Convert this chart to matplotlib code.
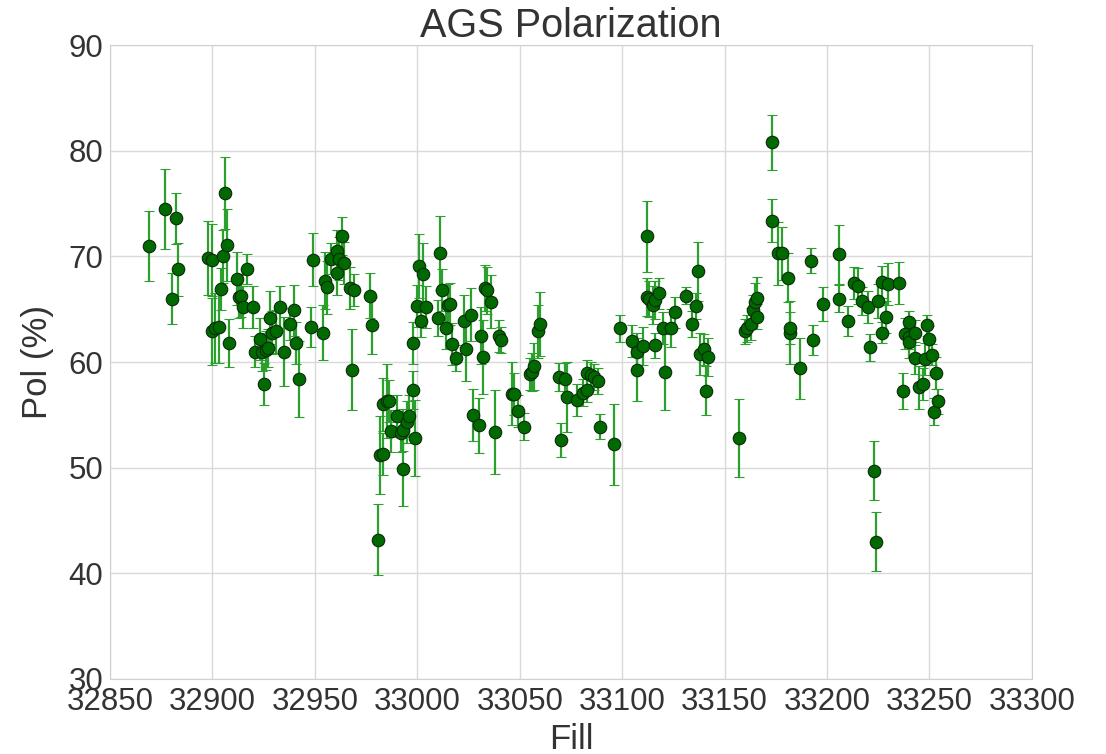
import numpy as np
import matplotlib
matplotlib.use('Agg')
import matplotlib.pyplot as plt

plt.rcParams['font.family'] = ['Liberation Sans', 'DejaVu Sans']

# fill numbers, polarization (%) and errors
fill = [32869, 32877, 32880, 32882, 32883, 32898, 32900, 32900, 32901, 32903,
        32904, 32905, 32906, 32907, 32908, 32912, 32913, 32914, 32915, 32917,
        32920, 32921, 32923, 32924, 32925, 32926, 32927, 32928, 32929, 32931,
        32933, 32935, 32938, 32940, 32941, 32942, 32949, 32948, 32954, 32955,
        32956, 32958, 32961, 32961, 32962, 32963, 32964, 32967, 32968, 32969,
        32977, 32978, 32981, 32982, 32983, 32983, 32985, 32986, 32987, 32990,
        32992, 32993, 32993, 32995, 32996, 32998, 32999, 32998, 33000, 33001,
        33002, 33003, 33004, 33010, 33011, 33012, 33014, 33015, 33016, 33017,
        33019, 33023, 33024, 33026, 33027, 33030, 33031, 33032, 33033, 33034,
        33036, 33038, 33040, 33041, 33046, 33047, 33049, 33052, 33055, 33056,
        33057, 33059, 33060, 33069, 33070, 33072, 33073, 33078, 33081, 33083,
        33083, 33085, 33086, 33088, 33089, 33096, 33099, 33105, 33107, 33107,
        33110, 33112, 33112, 33113, 33115, 33116, 33116, 33118, 33120, 33121,
        33124, 33126, 33131, 33134, 33136, 33137, 33138, 33140, 33141, 33142,
        33157, 33160, 33161, 33163, 33164, 33165, 33166, 33166, 33173, 33173,
        33176, 33178, 33181, 33182, 33182, 33187, 33192, 33193, 33198, 33206,
        33206, 33210, 33213, 33215, 33217, 33220, 33221, 33223, 33224, 33225,
        33227, 33227, 33229, 33230, 33235, 33237, 33238, 33240, 33240, 33240,
        33243, 33243, 33245, 33247, 33248, 33249, 33250, 33251, 33252, 33253,
        33254]
pol = [71.0, 74.5, 66.0, 73.6, 68.8, 69.9, 69.7, 62.9, 63.2, 63.3,
       66.9, 70.0, 76.0, 71.1, 61.8, 67.9, 66.2, 66.3, 65.2, 68.8,
       65.2, 61.0, 62.2, 61.0, 57.9, 61.1, 61.3, 64.2, 62.8, 62.9,
       65.2, 61.0, 63.6, 64.9, 61.8, 58.4, 69.7, 63.3, 62.8, 67.7,
       67.1, 69.8, 68.4, 70.5, 69.8, 71.9, 69.4, 67.0, 59.3, 66.8,
       66.3, 63.5, 43.2, 51.2, 51.3, 56.0, 56.3, 56.3, 53.5, 54.9,
       53.3, 49.9, 53.6, 54.3, 54.9, 57.4, 52.8, 61.8, 65.3, 69.1,
       63.9, 68.3, 65.2, 64.2, 70.3, 66.8, 63.2, 65.4, 65.5, 61.7,
       60.4, 63.9, 61.2, 64.5, 55.0, 54.0, 62.5, 60.5, 67.0, 66.8,
       65.7, 53.4, 62.5, 62.1, 57.0, 57.0, 55.4, 53.9, 58.9, 59.1,
       59.6, 62.9, 63.6, 58.6, 52.6, 58.4, 56.7, 56.4, 57.1, 57.4,
       59.0, 58.8, 58.6, 58.2, 53.9, 52.2, 63.2, 62.0, 61.0, 59.3,
       61.5, 71.9, 66.2, 66.0, 65.4, 61.6, 65.9, 66.5, 63.2, 59.1,
       63.2, 64.7, 66.3, 63.6, 65.3, 68.6, 60.8, 61.2, 57.3, 60.5,
       52.8, 62.9, 63.2, 63.6, 64.9, 65.7, 66.1, 64.3, 80.8, 73.4,
       70.3, 70.3, 68.0, 62.8, 63.2, 59.4, 69.6, 62.1, 65.5, 66.0,
       70.2, 63.9, 67.5, 67.2, 65.8, 65.2, 61.4, 49.7, 43.0, 65.8,
       62.8, 67.6, 64.3, 67.4, 67.5, 57.3, 62.7, 63.8, 62.4, 61.9,
       62.8, 60.4, 57.6, 57.9, 60.3, 63.5, 62.2, 60.7, 55.3, 59.0,
       56.3]
err = [3.3, 3.8, 2.4, 2.4, 2.5, 3.5, 3.4, 3.2, 3.3, 3.4,
       2.0, 2.5, 3.4, 3.4, 2.3, 2.5, 2.0, 2.0, 2.0, 1.4,
       2.0, 1.5, 2.0, 1.8, 2.0, 1.8, 1.8, 2.5, 2.0, 2.0,
       2.0, 3.3, 1.5, 2.4, 2.0, 3.6, 2.5, 1.9, 2.6, 2.7,
       2.5, 1.5, 2.0, 2.0, 2.0, 1.8, 2.0, 2.0, 3.8, 1.5,
       2.1, 2.7, 3.4, 3.7, 2.0, 2.5, 3.5, 2.0, 2.0, 2.0,
       1.8, 3.5, 2.0, 2.0, 2.0, 1.8, 3.6, 2.0, 2.0, 3.0,
       1.5, 3.0, 2.0, 1.7, 3.5, 2.0, 2.0, 2.0, 2.0, 2.0,
       1.2, 2.5, 3.0, 2.5, 2.5, 2.6, 2.7, 3.5, 2.2, 2.2,
       2.5, 4.0, 1.5, 1.2, 3.0, 2.0, 1.5, 1.3, 1.5, 1.8,
       2.2, 2.5, 3.0, 1.3, 1.6, 1.5, 3.3, 1.5, 1.3, 1.2,
       1.2, 1.2, 1.2, 1.2, 1.2, 3.8, 1.3, 1.5, 1.8, 3.0,
       1.8, 3.4, 1.8, 1.7, 1.8, 1.2, 1.8, 1.5, 1.5, 3.6,
       1.8, 1.5, 0.8, 1.2, 1.2, 2.8, 2.0, 1.5, 2.3, 1.8,
       3.7, 1.2, 1.3, 1.5, 1.5, 1.8, 2.0, 1.2, 2.6, 2.0,
       3.0, 2.5, 2.3, 3.0, 1.5, 2.9, 1.2, 1.4, 1.6, 1.3,
       2.8, 1.4, 1.5, 1.7, 1.3, 1.5, 1.3, 2.8, 2.8, 1.6,
       1.0, 1.5, 1.5, 2.0, 2.0, 1.7, 1.5, 1.0, 1.2, 1.5,
       1.2, 1.5, 2.0, 1.5, 1.5, 1.0, 1.2, 1.0, 1.3, 1.5,
       1.2]

xticks = np.arange(32850, 33301, 50)
yticks = np.arange(30, 91, 10)

fig = plt.figure(figsize=(11.06, 7.54), dpi=100)
ax = fig.add_axes([0.0995, 0.0995, 0.8335, 0.8405])

ax.errorbar(fill, pol, yerr=err, fmt='o', color='#1f8f1f', ecolor='#2ca02c',
            elinewidth=1.6, capsize=3.5, capthick=1.2,
            markerfacecolor='#006a00', markeredgecolor='#0a2a0a',
            markeredgewidth=0.8, markersize=9, zorder=3)

ax.set_xlim(32850, 33300)
ax.set_ylim(30, 90)
ax.set_xticks(xticks)
ax.set_yticks(yticks)
ax.grid(True, color='#d9d9d9', linewidth=1)
ax.set_axisbelow(True)
for s in ax.spines.values():
    s.set_color('#d0d0d0')
ax.tick_params(length=0, labelsize=22.5, colors='#333333', pad=5)
ax.tick_params(axis='x', pad=6)

ax.set_title('AGS Polarization', fontsize=28.5, color='#333333', pad=4)
ax.set_xlabel('Fill', fontsize=25, color='#333333', labelpad=4)
ax.set_ylabel('Pol (%)', fontsize=25, color='#333333', labelpad=10)

fig.savefig('out.png', dpi=100)
